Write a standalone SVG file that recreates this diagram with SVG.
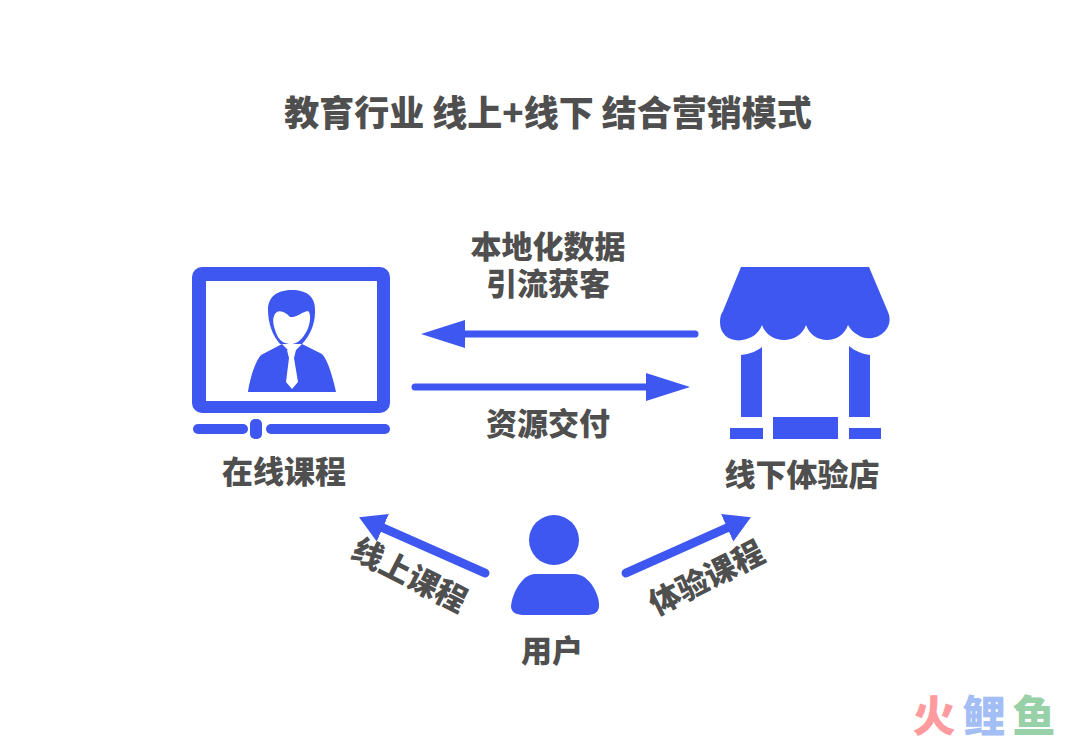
<svg xmlns="http://www.w3.org/2000/svg" width="1080" height="742" viewBox="0 0 1080 742">
<style>
text{font-family:"Noto Sans CJK SC","Liberation Sans",sans-serif;font-weight:900;fill:#4f4f4f;text-anchor:middle}
.t{font-size:35px}
.l{font-size:31px}
.b{fill:#3d57f0}
.w{fill:#fff}
.ln{fill:none;stroke:#3d57f0;stroke-width:7;stroke-linecap:round}
.ln2{fill:none;stroke:#3d57f0;stroke-width:9;stroke-linecap:round}
.lg{font-size:43px}
</style>
<defs>
<marker id="ah" markerUnits="userSpaceOnUse" markerWidth="48" markerHeight="30" refX="2" refY="14" orient="auto"><path d="M0 0L44 14L0 28Z" fill="#3d57f0"/></marker>
<marker id="ah2" markerUnits="userSpaceOnUse" markerWidth="32" markerHeight="32" refX="2" refY="15" orient="auto"><path d="M0 0L26 15L0 30Z" fill="#3d57f0"/></marker>
</defs>
<rect width="1080" height="742" fill="#fff"/>
<text id="title" class="t" x="548" y="126">教育行业 线上+线下 结合营销模式</text>
<g id="connectors">
<path class="ln" d="M695 334H463" marker-end="url(#ah)"/>
<path class="ln" d="M415 387H648" marker-end="url(#ah)"/>
<path class="ln2" d="M485 573L381 527" marker-end="url(#ah2)"/>
<path class="ln2" d="M626 573L729 527" marker-end="url(#ah2)"/>
</g>
<g id="label-top"><text class="l" x="548" y="258">本地化数据</text><text class="l" x="548" y="295">引流获客</text></g>
<g id="label-delivery"><text class="l" x="548" y="435">资源交付</text></g>
<g id="label-online"><text class="l" transform="translate(409 576) rotate(27)" y="10">线上课程</text></g>
<g id="label-trial"><text class="l" transform="translate(707 579) rotate(-27)" y="10">体验课程</text></g>
<g id="node-online">
<path class="b" fill-rule="evenodd" d="M202 267H380a10 10 0 0 1 10 10V403a10 10 0 0 1-10 10H202a10 10 0 0 1-10-10V277a10 10 0 0 1 10-10ZM206 281V401H377V281Z"/>
<rect class="b" x="193" y="424" width="55" height="10" rx="5"/>
<rect class="b" x="266" y="424" width="124" height="10" rx="5"/>
<rect class="b" x="250" y="419" width="12" height="20" rx="5"/>
<path class="b" d="M268 310C268 296 278 290 292 290C306 290 316 296 315 312C315 324 310 336 302 344L280 344C273 336 268 324 268 310Z"/>
<path class="w" d="M274 316C276 309 284 310 290 317C296 318 302 312 308 311C312 314 310 327 305 334C300 342 295 344 291 344C286 344 280 342 277 335C274 328 272 321 274 316Z"/>
<path class="b" d="M282 344L288 350H296L302 344L322 354C328 360 333 378 336 392H248C250 378 255 362 261 355Z"/>
<path class="w" d="M287 350L296 350L294 358L298 382L292 389L286 382L289 358Z"/>
</g>
<g id="node-store">
<path class="b" d="M741 267H869L888 312C896 331 872 345 858 335C854 333 851 330 848 325C841 345 813 345 806 325C799 345 769 345 762 325C755 345 720 347 720 322C720 317 721 314 723 311Z"/>
<path class="b" d="M741 355C750 354 757 351 762 347V417H741Z"/>
<path class="b" d="M849 346C855 351 862 354 870 355V417H849Z"/>
<rect class="b" x="730" y="428" width="33" height="11"/>
<rect class="b" x="773" y="417" width="65" height="22"/>
<rect class="b" x="849" y="428" width="32" height="11"/>
</g>
<g id="node-user">
<circle class="b" cx="554" cy="540" r="25"/>
<path class="b" d="M535 574H574C590 574 600 596 599 607C598 614 592 615 585 615H525C517 615 511 613 511 606C512 594 522 574 535 574Z"/>
</g>
<text id="label-course" class="l" x="284" y="483">在线课程</text>
<text id="label-shop" class="l" x="802" y="486">线下体验店</text>
<text id="label-user" class="l" x="552" y="662">用户</text>
<g id="watermark">
<text class="lg" x="934" y="732" style="fill:#ff9a9e">火</text>
<text class="lg" x="984" y="732" style="fill:#a3bdf5">鲤</text>
<text class="lg" x="1034" y="732" style="fill:#98d0a8">鱼</text>
</g>
</svg>
